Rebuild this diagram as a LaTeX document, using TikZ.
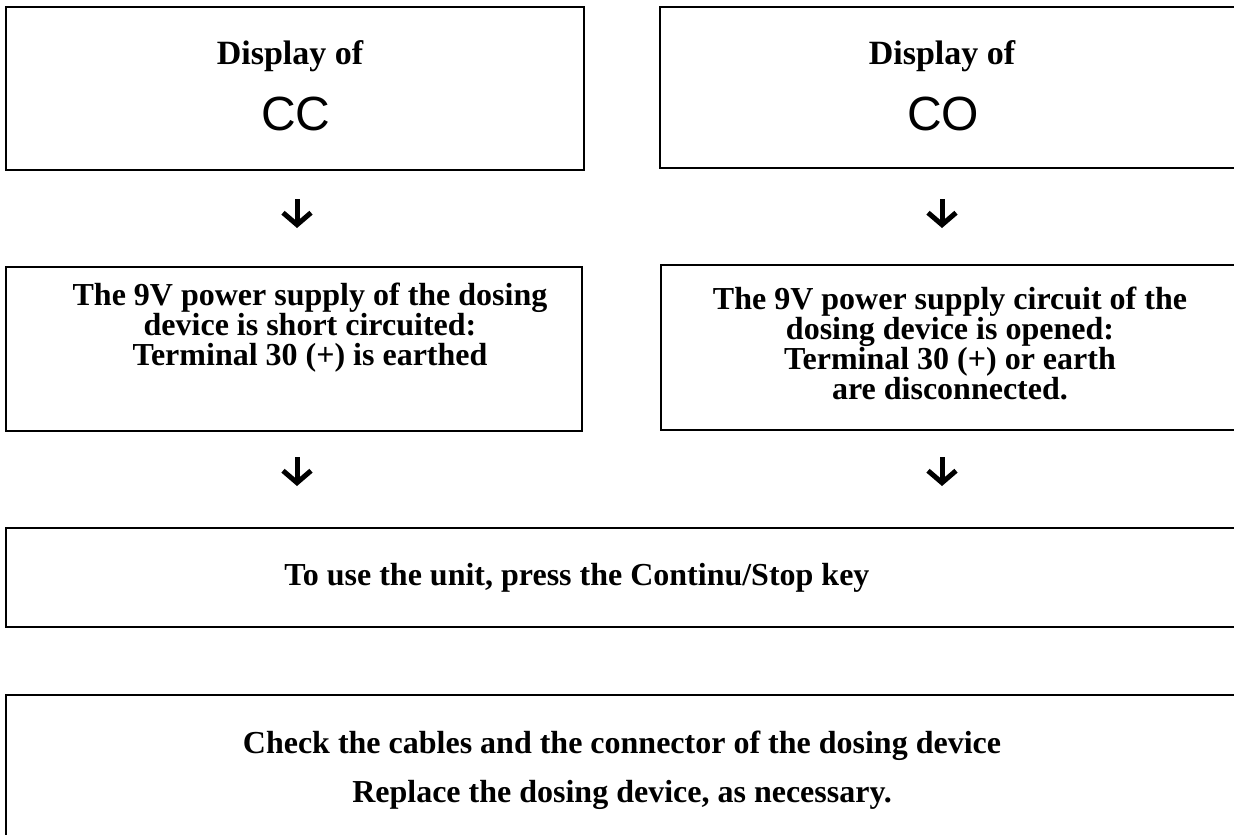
\documentclass[tikz,border=0pt]{standalone}
\usepackage{fontspec}
\setmainfont{Liberation Serif}
\newfontfamily\arialf{Liberation Sans}
\usetikzlibrary{arrows.meta,calc}
\begin{document}
\begin{tikzpicture}[x=1pt,y=-1pt,
  box/.style={draw, line width=1.8pt, inner sep=0pt},
  txt/.style={font=\bfseries\fontsize{32}{30}\selectfont, align=center, inner sep=0pt},
  dispof/.style={font=\bfseries\fontsize{34}{34}\selectfont, inner sep=0pt},
  big/.style={font=\arialf\fontsize{48}{48}\selectfont, inner sep=0pt},
  arr/.style={line width=5pt, -{Straight Barb[length=12pt,width=28pt]}}]
\useasboundingbox (0,0) rectangle (1234,835);
% boxes
\node[box, minimum width=578pt, minimum height=163pt] (b1) at (295,88.5) {};
\node[box, minimum width=580pt, minimum height=161pt] (b2) at (950,87.5) {};
\node[box, minimum width=576pt, minimum height=164pt] (b3) at (294,349) {};
\node[box, minimum width=579pt, minimum height=165pt] (b4) at (950.5,347.5) {};
\node[box, minimum width=1234pt, minimum height=99pt] (b5) at (623,577.5) {};
\node[box, minimum width=1234pt, minimum height=165pt] (b6) at (623,777.5) {};
% texts
\node[dispof] (t1a) at (290,56) {Display of};
\node[big] (t1b) at (296,114) {CC};
\node[dispof] (t2a) at (942,56) {Display of};
\node[big] (t2b) at (943,114) {CO};
\node[txt] (t3) at (310,328) {The 9V power supply of the dosing\\device is short circuited:\\Terminal 30 (+) is earthed};
\node[txt] (t4) at (950,343) {The 9V power supply circuit of the\\dosing device is opened:\\Terminal 30 (+) or earth\\are disconnected.};
\node[txt] (t5) at (577,578) {To use the unit, press the Continu/Stop key};
\node[txt, font=\bfseries\fontsize{32}{49}\selectfont] (t6) at (622,770) {Check the cables and the connector of the dosing device\\Replace the dosing device, as necessary.};
% arrows
\coordinate (a1s) at (297,199);
\coordinate (a1e) at (297,228);
\coordinate (a2s) at (942,199);
\coordinate (a2e) at (942,228);
\coordinate (a3s) at (297,457);
\coordinate (a3e) at (297,486);
\coordinate (a4s) at (942,457);
\coordinate (a4e) at (942,486);
\draw[arr] (a1s) -- (a1e);
\draw[arr] (a2s) -- (a2e);
\draw[arr] (a3s) -- (a3e);
\draw[arr] (a4s) -- (a4e);
\end{tikzpicture}
\end{document}
